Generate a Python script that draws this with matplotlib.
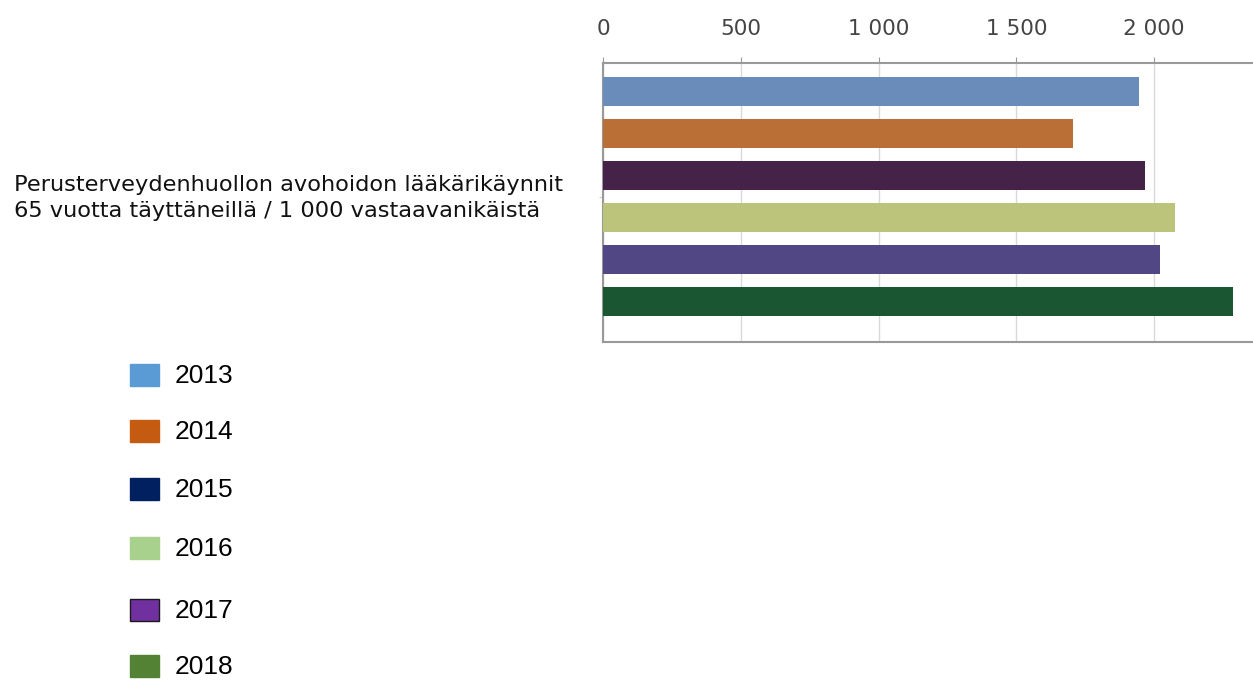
import matplotlib.pyplot as plt
from matplotlib.patches import Rectangle
from matplotlib.ticker import FuncFormatter

# data
years = ["2013", "2014", "2015", "2016", "2017", "2018"]
visits = [1946, 1706, 1967, 2076, 2022, 2287]
category = "Perusterveydenhuollon avohoidon lääkärikäynnit\n65 vuotta täyttäneillä / 1 000 vastaavanikäistä"
bar_colors = ["#6A8CBA", "#BA6F37", "#452248", "#BCC47C", "#524785", "#1B5632"]
legend_colors = ["#5B9BD5", "#C55A11", "#002060", "#A9D18E", "#7030A0", "#548235"]
legend_edges = ["#5B9BD5", "#C55A11", "#002060", "#A9D18E", "#1A1A1A", "#548235"]

W, H = 1253, 682
fig = plt.figure(figsize=(W / 100, H / 100), dpi=100)
ax = fig.add_axes([603 / W, 1 - 342 / H, 1 - 603 / W, (342 - 63) / H])

pos = list(range(len(years)))
ax.barh(pos, visits, height=0.69, color=bar_colors, zorder=3)
ax.set_ylim(5.96, -0.68)
ax.set_xlim(0, 2359)
ax.set_xticks([0, 500, 1000, 1500, 2000])
ax.xaxis.set_major_formatter(FuncFormatter(lambda v, p: f"{int(v):,}".replace(",", " ")))
ax.xaxis.tick_top()
ax.tick_params(axis="x", length=4, color="#999999", labelsize=15.5, labelcolor="#444444", pad=13)
ax.set_yticks([2.5])
ax.set_yticklabels([""])
ax.tick_params(axis="y", length=3, color="#cccccc")
ax.grid(axis="x", color="#d9d9d9", linewidth=1, zorder=0)
for s in ["top", "bottom", "left"]:
    ax.spines[s].set_color("#999999")
    ax.spines[s].set_linewidth(1.5)
ax.spines["right"].set_visible(False)

fig.text(14 / W, 1 - 198 / H, category, fontsize=16.2, color="#111111",
         va="center", ha="left", linespacing=1.42, family="DejaVu Sans")

# legend drawn by hand
ys = [375, 431, 489, 548, 610, 666]
for i, y in enumerate(years):
    yc = ys[i]
    fig.add_artist(Rectangle((130 / W, 1 - (yc + 11) / H), 29 / W, 22 / H,
                             facecolor=legend_colors[i], edgecolor=legend_edges[i],
                             linewidth=1, transform=fig.transFigure))
    fig.text(175 / W, 1 - (yc + 1) / H, y, fontsize=19, family="Liberation Sans",
             va="center", ha="left", color="black")

fig.savefig("out.png", dpi=100)
